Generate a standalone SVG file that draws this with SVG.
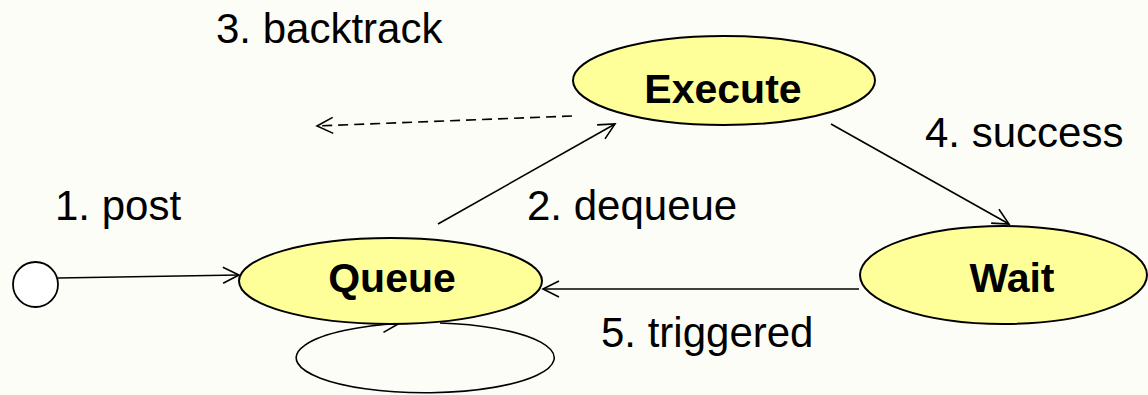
<svg xmlns="http://www.w3.org/2000/svg" width="1148" height="395" viewBox="0 0 1148 395">
<defs>
<style>
.node{fill:#FFFF99;stroke:#000;stroke-width:2}
.lbl{font-family:"Liberation Sans",Arial,sans-serif;font-weight:bold;font-size:41px;fill:#000;text-anchor:middle}
.txt{font-family:"Liberation Sans",Arial,sans-serif;font-size:42px;fill:#000}
.edge{fill:none;stroke:#000;stroke-width:1.6}
</style>
<marker id="arr" markerWidth="22" markerHeight="22" refX="18" refY="11" orient="auto" markerUnits="userSpaceOnUse">
<path d="M2,3 L18,11 L2,19" fill="none" stroke="#000" stroke-width="1.6"/>
</marker>
</defs>
<rect width="1148" height="395" fill="#FDFDF7"/>
<g id="start"><circle cx="35.5" cy="284.5" r="22.5" fill="#fff" stroke="#000" stroke-width="1.8"/></g>
<g id="connectors">
<line class="edge" x1="58" y1="278" x2="239" y2="275" marker-end="url(#arr)"/>
<path class="edge" d="M440,323 A129,35 0 1 1 399,323.5" marker-end="url(#arr)"/>
<line class="edge" x1="438" y1="224" x2="615" y2="124" marker-end="url(#arr)"/>
<line class="edge" x1="572" y1="116" x2="317" y2="126" stroke-dasharray="10,6" marker-end="url(#arr)"/>
<line class="edge" x1="831" y1="124" x2="1009" y2="224" marker-end="url(#arr)"/>
<line class="edge" x1="859" y1="289" x2="543" y2="289" marker-end="url(#arr)"/>
</g>
<g id="queue"><ellipse class="node" cx="390.5" cy="281" rx="151.5" ry="43"/><text class="lbl" x="392" y="292">Queue</text></g>
<g id="execute"><ellipse class="node" cx="724" cy="80.5" rx="151" ry="44.5"/><text class="lbl" x="723" y="103">Execute</text></g>
<g id="wait"><ellipse class="node" cx="1003.5" cy="275" rx="143.5" ry="49"/><text class="lbl" x="1012" y="292">Wait</text></g>
<g id="labels">
<text class="txt" x="216" y="43">3. backtrack</text>
<text class="txt" x="925" y="147">4. success</text>
<text class="txt" x="55" y="220">1. post</text>
<text class="txt" x="527" y="220">2. dequeue</text>
<text class="txt" x="601" y="347">5. triggered</text>
</g>
</svg>
